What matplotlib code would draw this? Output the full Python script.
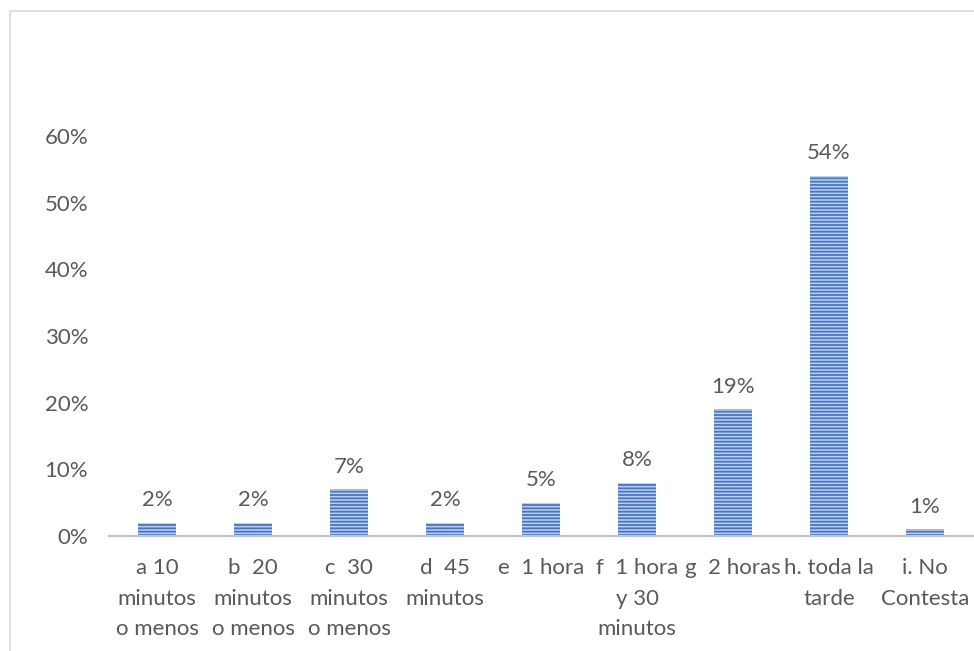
import matplotlib
matplotlib.use("Agg")
import matplotlib.pyplot as plt
from matplotlib.patches import Rectangle
from matplotlib.ticker import FuncFormatter

# categories and values (percent)
categories = [
    "a 10\nminutos\no menos",
    "b  20\nminutos\no menos",
    "c  30\nminutos\no menos",
    "d  45\nminutos",
    "e  1 hora",
    "f  1 hora\ny 30\nminutos",
    "g  2 horas",
    "h. toda la\ntarde",
    "i. No\nContesta",
]
values = [2, 2, 7, 2, 5, 8, 19, 54, 1]
yticks = [0, 10, 20, 30, 40, 50, 60]

plt.rcParams['font.family'] = ['Lato', 'DejaVu Sans']
plt.rcParams['hatch.linewidth'] = 1.3
text_color = '#595959'
fs = 16

W, H = 974, 651
fig = plt.figure(figsize=(W / 100, H / 100), dpi=100)

# plot area: slot width 96px starting at x=109, 0% at y=536, 60% at y=136
ax = fig.add_axes([109 / W, (H - 536) / H, 96 * 9 / W, 400 / H])

x = list(range(len(categories)))
ax.bar(x, values, width=0.39, color='#bccfec', edgecolor='#4676c2',
       hatch='-----', linewidth=0)

for xi, v in zip(x, values):
    ax.annotate(f"{v}%", (xi, v), xytext=(0, 9), textcoords='offset points',
                ha='center', va='bottom', fontsize=fs, color=text_color)

ax.set_xlim(-0.5, len(categories) - 0.5)
ax.set_ylim(0, 60)
ax.set_yticks(yticks)
ax.yaxis.set_major_formatter(FuncFormatter(lambda v, p: f"{v:.0f}%"))
ax.set_xticks(x)
ax.set_xticklabels(categories, linespacing=1.66)

ax.tick_params(axis='y', length=0, pad=15, labelsize=fs, labelcolor=text_color)
ax.tick_params(axis='x', length=0, pad=16, labelsize=fs, labelcolor=text_color)

for s in ['top', 'right', 'left']:
    ax.spines[s].set_visible(False)
ax.spines['bottom'].set_color('#c4c4c4')
ax.spines['bottom'].set_linewidth(1.6)

# outer chart border (cropped on the right and bottom)
fig.patches.append(Rectangle((10 / W, -0.1), 1.2, 1.1 - 11 / H,
                             transform=fig.transFigure, fill=False,
                             edgecolor='#d9d9d9', linewidth=1.2))

fig.savefig("out.png", dpi=100)
